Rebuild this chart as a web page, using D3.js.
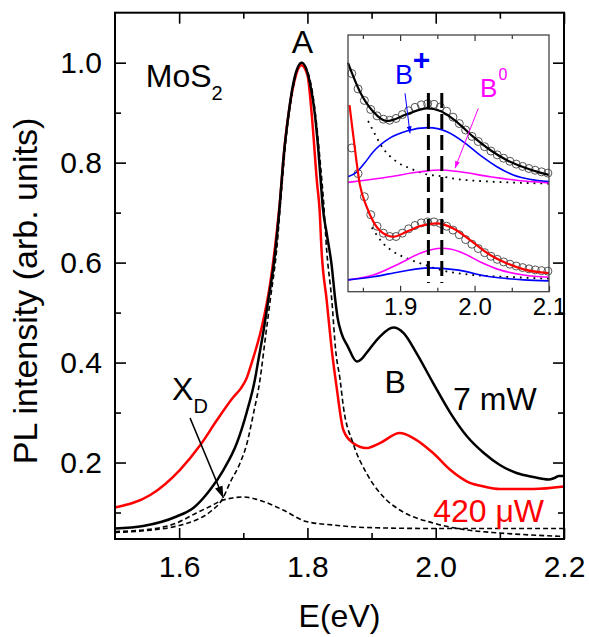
<!DOCTYPE html>
<html>
<head>
<meta charset="utf-8">
<script src="https://cdnjs.cloudflare.com/ajax/libs/d3/7.8.5/d3.min.js"></script>
<style>
  body { margin: 0; background: #fff; }
  svg { display: block; font-family: "Liberation Sans", Arial, sans-serif; }
</style>
</head>
<body>
<svg id="chart"></svg>
<script>
// main panel, [E (eV), normalised PL]
const pl7mW = [[1.500,0.068],[1.544,0.073],[1.596,0.092],[1.622,0.109],[1.648,0.145],[1.669,0.185],[1.690,0.239],
  [1.705,0.299],[1.718,0.365],[1.7235,0.405],[1.731,0.459],[1.739,0.525],[1.747,0.592],[1.7565,0.710],[1.762,0.800],
  [1.770,0.892],[1.778,0.959],[1.791,1.000],[1.804,0.959],[1.812,0.892],[1.817,0.825],[1.821,0.759],[1.824,0.710],
  [1.830,0.659],[1.838,0.592],[1.843,0.530],[1.847,0.490],[1.853,0.459],[1.863,0.432],[1.877,0.402],[1.885,0.408],
  [1.892,0.419],[1.913,0.452],[1.934,0.470],[1.950,0.459],[1.970,0.419],[1.996,0.359],[2.023,0.299],[2.049,0.252],
  [2.075,0.219],[2.100,0.195],[2.126,0.179],[2.152,0.171],[2.176,0.166],[2.185,0.169],[2.192,0.173],[2.200,0.173]];
const pl420uW = [[1.500,0.110],[1.555,0.135],[1.601,0.185],[1.633,0.235],[1.659,0.285],[1.684,0.330],[1.697,0.350],
  [1.705,0.368],[1.713,0.399],[1.729,0.472],[1.742,0.559],[1.752,0.659],[1.757,0.720],[1.765,0.840],[1.772,0.910],
  [1.780,0.965],[1.7905,0.995],[1.800,0.975],[1.807,0.892],[1.815,0.759],[1.819,0.705],[1.822,0.625],[1.830,0.525],
  [1.838,0.425],[1.8456,0.350],[1.856,0.265],[1.871,0.239],[1.892,0.229],[1.913,0.239],[1.944,0.259],[1.965,0.249],
  [1.996,0.219],[2.023,0.185],[2.049,0.162],[2.075,0.152],[2.100,0.147],[2.152,0.147],[2.200,0.152]];
const fitA = [[1.500,0.060],[1.550,0.064],[1.600,0.074],[1.630,0.087],[1.650,0.103],[1.668,0.128],[1.679,0.159],
  [1.695,0.199],[1.705,0.235],[1.716,0.299],[1.726,0.365],[1.734,0.445],[1.742,0.525],[1.752,0.625],[1.760,0.750],
  [1.766,0.840],[1.775,0.930],[1.791,1.000],[1.805,0.960],[1.814,0.880],[1.820,0.800],[1.825,0.725],[1.830,0.625],
  [1.838,0.525],[1.844,0.425],[1.851,0.365],[1.856,0.312],[1.871,0.239],[1.892,0.179],[1.918,0.132],[1.944,0.105],
  [1.996,0.079],[2.049,0.065],[2.100,0.059],[2.200,0.052]];
const fitXD = [[1.500,0.062],[1.544,0.065],[1.596,0.079],[1.627,0.099],[1.648,0.112],[1.669,0.125],[1.700,0.131],
  [1.731,0.122],[1.762,0.105],[1.798,0.082],[1.840,0.075],[1.892,0.070],[2.000,0.068],[2.200,0.068]];

const xMajor = [1.6, 1.8, 2.0, 2.2];
const xMinor = [1.7, 1.9, 2.1];
const yMajor = [0.2, 0.4, 0.6, 0.8, 1.0];
const yMinor = [0.1, 0.3, 0.5, 0.7, 0.9];

// inset, arbitrary vertical units (0..1 of the inset box)
const insetDotE = [1.835,1.8435,1.852,1.8605,1.869,1.8775,1.886,1.8945,1.903,1.9115,1.92,1.9285,1.937,1.9455,
  1.954,1.9625,1.971,1.9795,1.988,1.9965,2.005,2.0135,2.022,2.0305,2.039,2.0475,2.056,2.0645,2.073,2.0815,2.09,2.0985];
const insetDots7mW = [0.85,0.79,0.745,0.71,0.685,0.672,0.668,0.675,0.69,0.705,0.718,0.728,0.732,0.73,0.72,0.703,
  0.68,0.655,0.63,0.605,0.585,0.565,0.548,0.533,0.52,0.508,0.497,0.488,0.48,0.473,0.467,0.462];
const insetDots420uW = [0.56,0.46,0.37,0.30,0.255,0.228,0.215,0.215,0.228,0.245,0.258,0.268,0.272,0.272,0.266,0.255,
  0.24,0.222,0.203,0.185,0.168,0.152,0.138,0.126,0.116,0.107,0.10,0.094,0.089,0.085,0.082,0.08];

const fit7mW = [[1.830,0.891],[1.846,0.779],[1.864,0.701],[1.882,0.665],[1.909,0.691],[1.936,0.714],[1.954,0.704],
  [1.976,0.662],[1.998,0.604],[2.021,0.552],[2.043,0.513],[2.066,0.485],[2.088,0.464],[2.100,0.455]];
const bPlus7mW = [[1.830,0.448],[1.842,0.467],[1.852,0.500],[1.864,0.545],[1.886,0.598],[1.909,0.626],[1.938,0.639],
  [1.963,0.623],[1.985,0.584],[2.007,0.533],[2.030,0.487],[2.052,0.455],[2.074,0.438],[2.100,0.429]];
const bZero7mW = [[1.830,0.426],[1.886,0.448],[1.927,0.467],[1.954,0.474],[1.980,0.467],[2.021,0.448],[2.066,0.431],[2.100,0.424]];
const tail7mW = [[1.857,0.665],[1.862,0.637],[1.877,0.559],[1.895,0.507],[1.913,0.481],[1.936,0.457],[1.954,0.450],
  [1.976,0.439],[2.021,0.429],[2.088,0.422],[2.100,0.421]];

const fit420uW = [[1.832,0.727],[1.837,0.610],[1.846,0.416],[1.855,0.331],[1.864,0.273],[1.877,0.228],[1.891,0.214],
  [1.909,0.234],[1.927,0.256],[1.949,0.266],[1.971,0.247],[1.994,0.201],[2.021,0.143],[2.043,0.111],[2.066,0.087],[2.100,0.072]];
const bPlus420uW = [[1.830,0.046],[1.864,0.058],[1.900,0.078],[1.938,0.093],[1.976,0.085],[2.021,0.058],[2.066,0.046],[2.100,0.042]];
const bZero420uW = [[1.830,0.046],[1.864,0.065],[1.900,0.111],[1.927,0.150],[1.956,0.169],[1.980,0.156],[2.007,0.117],
  [2.034,0.085],[2.066,0.065],[2.100,0.056]];
const tail420uW = [[1.862,0.25],[1.877,0.189],[1.891,0.156],[1.909,0.130],[1.931,0.107],
  [1.954,0.085],[1.998,0.065],[2.043,0.058],[2.088,0.052],[2.100,0.051]];

const peakLines = [1.938, 1.956];
const insetXMajor = [1.9, 2.0, 2.1];
const insetXMinor = [1.85, 1.95, 2.05];

class PLChart {
  margin = { top: 12.7, right: 25, bottom: 98, left: 115 }

  constructor(svg, width = 589, height = 637) {
    this.svg = d3.select(svg);
    this.fullWidth = width;
    this.fullHeight = height;
    this.width = width - this.margin.left - this.margin.right;
    this.height = height - this.margin.top - this.margin.bottom;
  }

  initialize() {
    this.svg.attr("width", this.fullWidth).attr("height", this.fullHeight);
    this.svg.append("rect").attr("width", this.fullWidth).attr("height", this.fullHeight).attr("fill", "white");
    this.defs = this.svg.append("defs");
    this.addArrow("arrowBlack", "black", 12, 8);
    this.addArrow("arrowBlue", "#0000ff", 7, 5);
    this.addArrow("arrowMagenta", "#ff00ff", 7, 5);

    this.x = d3.scaleLinear().domain([1.5, 2.2]).range([this.margin.left, this.margin.left + this.width]);
    this.y = d3.scaleLinear().domain([0.047, 1.1]).range([this.margin.top + this.height, this.margin.top]);

    // inset box
    this.xi = d3.scaleLinear().domain([1.83, 2.1]).range([348, 549]);
    this.yi = d3.scaleLinear().domain([0, 1]).range([291.7, 35]);
  }

  addArrow(id, color, w, h) {
    this.defs.append("marker")
      .attr("id", id)
      .attr("viewBox", "0 0 10 10")
      .attr("refX", 10).attr("refY", 5)
      .attr("markerWidth", w).attr("markerHeight", h)
      .attr("markerUnits", "userSpaceOnUse")
      .attr("preserveAspectRatio", "none")
      .attr("orient", "auto")
      .append("path").attr("d", "M0,0L10,5L0,10Z").attr("fill", color);
  }

  update() {
    this.drawMain();
    this.drawInset();
  }

  drawMain() {
    const x = this.x, y = this.y;
    const g = this.svg.append("g");
    const line = d3.line().x(d => x(d[0])).y(d => y(d[1])).curve(d3.curveMonotoneX);

    g.append("path").datum(pl420uW).attr("d", line).attr("fill", "none").attr("stroke", "#ff0000").attr("stroke-width", 2.5);
    g.append("path").datum(pl7mW).attr("d", line).attr("fill", "none").attr("stroke", "black").attr("stroke-width", 2.5);
    g.append("path").datum(fitXD).attr("d", line).attr("fill", "none").attr("stroke", "black")
      .attr("stroke-width", 1.6).attr("stroke-dasharray", "5,3");
    g.append("path").datum(fitA).attr("d", line).attr("fill", "none").attr("stroke", "black")
      .attr("stroke-width", 1.6).attr("stroke-dasharray", "5,3");

    // axes, ticks pointing in
    const bottom = this.margin.top + this.height, top = this.margin.top;
    const left = this.margin.left, right = this.margin.left + this.width;
    const fmt = d3.format(".1f");

    const axes = [
      [d3.axisBottom(x).tickValues(xMajor).tickSize(-11).tickPadding(17).tickFormat(fmt), `translate(0,${bottom})`],
      [d3.axisBottom(x).tickValues(xMinor).tickSize(-6).tickFormat(""), `translate(0,${bottom})`],
      [d3.axisTop(x).tickValues(xMajor).tickSize(-11).tickFormat(""), `translate(0,${top})`],
      [d3.axisTop(x).tickValues(xMinor).tickSize(-6).tickFormat(""), `translate(0,${top})`],
      [d3.axisLeft(y).tickValues(yMajor).tickSize(-11).tickPadding(13).tickFormat(fmt), `translate(${left},0)`],
      [d3.axisLeft(y).tickValues(yMinor).tickSize(-6).tickFormat(""), `translate(${left},0)`],
      [d3.axisRight(y).tickValues(yMajor).tickSize(-11).tickFormat(""), `translate(${right},0)`],
      [d3.axisRight(y).tickValues(yMinor).tickSize(-6).tickFormat(""), `translate(${right},0)`]
    ];
    for (const [axis, tr] of axes) {
      const a = g.append("g").attr("transform", tr).call(axis);
      a.select(".domain").remove();
      a.selectAll("line").attr("stroke", "black").attr("stroke-width", 1.6);
      a.selectAll("text").attr("font-size", 30).attr("fill", "black").attr("font-family", "Liberation Sans, Arial, sans-serif");
    }

    g.append("rect").attr("x", left).attr("y", top).attr("width", this.width).attr("height", this.height)
      .attr("fill", "none").attr("stroke", "black").attr("stroke-width", 2);

    // titles
    g.append("text").attr("x", (left + right) / 2).attr("y", 627).attr("text-anchor", "middle")
      .attr("font-size", 32).text("E(eV)");
    g.append("text").attr("transform", "translate(37,291) rotate(-90)")
      .attr("text-anchor", "middle").attr("font-size", 34).text("PL intensity (arb. units)");

    // labels
    g.append("text").attr("x", x(1.792)).attr("y", y(1.019)).attr("text-anchor", "middle").attr("font-size", 32).text("A");
    const mos = g.append("text").attr("x", x(1.548)).attr("y", y(0.951)).attr("font-size", 32).text("MoS");
    mos.append("tspan").attr("font-size", 20).attr("dy", 13).text("2");
    const xd = g.append("text").attr("x", x(1.589)).attr("y", y(0.325)).attr("font-size", 32).text("X");
    xd.append("tspan").attr("font-size", 20).attr("dy", 13).text("D");
    g.append("text").attr("x", x(1.9366)).attr("y", y(0.339)).attr("text-anchor", "middle").attr("font-size", 32).text("B");
    g.append("text").attr("x", x(2.027)).attr("y", y(0.305)).attr("font-size", 32).text("7 mW");
    g.append("text").attr("x", x(1.996)).attr("y", y(0.081)).attr("font-size", 32).attr("fill", "#ff0000").text("420 μW");

    g.append("line").attr("x1", x(1.617)).attr("y1", y(0.289)).attr("x2", x(1.669)).attr("y2", y(0.129))
      .attr("stroke", "black").attr("stroke-width", 1.6).attr("marker-end", "url(#arrowBlack)");
  }

  drawInset() {
    const xi = this.xi, yi = this.yi;
    const g = this.svg.append("g");
    const line = d3.line().x(d => xi(d[0])).y(d => yi(d[1])).curve(d3.curveMonotoneX);
    const [x0, x1] = xi.range(), [y0, y1] = yi.range();

    g.append("rect").attr("x", x0).attr("y", y1).attr("width", x1 - x0).attr("height", y0 - y1).attr("fill", "white");

    // open circles = data
    for (const vals of [insetDots7mW, insetDots420uW]) {
      g.selectAll(null).data(insetDotE.map((e, i) => [e, vals[i]])).join("circle")
        .attr("cx", d => xi(d[0])).attr("cy", d => yi(d[1])).attr("r", 4)
        .attr("fill", "none").attr("stroke", "#555").attr("stroke-width", 1);
    }

    const dotted = (data) => g.append("path").datum(data).attr("d", line).attr("fill", "none")
      .attr("stroke", "black").attr("stroke-width", 1.8).attr("stroke-dasharray", "1.8,5");
    dotted(tail7mW);
    dotted(tail420uW);

    const solid = (data, color, w) => g.append("path").datum(data).attr("d", line).attr("fill", "none")
      .attr("stroke", color).attr("stroke-width", w);
    solid(bZero7mW, "#ff00ff", 1.6);
    solid(bPlus7mW, "#0000ff", 1.6);
    solid(bZero420uW, "#ff00ff", 1.6);
    solid(bPlus420uW, "#0000ff", 1.6);
    solid(fit7mW, "black", 2.2);
    solid(fit420uW, "#ff0000", 2.2);

    g.selectAll(null).data(peakLines).join("line")
      .attr("x1", d => xi(d)).attr("x2", d => xi(d)).attr("y1", yi(0.774)).attr("y2", yi(0.034))
      .attr("stroke", "black").attr("stroke-width", 3).attr("stroke-dasharray", "15,6");

    const axes = [
      [d3.axisBottom(xi).tickValues(insetXMajor).tickSize(-6).tickPadding(6).tickFormat(d3.format(".1f")), `translate(0,${y0})`],
      [d3.axisBottom(xi).tickValues(insetXMinor).tickSize(-4).tickFormat(""), `translate(0,${y0})`],
      [d3.axisTop(xi).tickValues(insetXMajor.slice(0, 2)).tickSize(-6).tickFormat(""), `translate(0,${y1})`],
      [d3.axisTop(xi).tickValues(insetXMinor).tickSize(-4).tickFormat(""), `translate(0,${y1})`]
    ];
    for (const [axis, tr] of axes) {
      const a = g.append("g").attr("transform", tr).call(axis);
      a.select(".domain").remove();
      a.selectAll("line").attr("stroke", "#333").attr("stroke-width", 1.2);
      a.selectAll("text").attr("font-size", 24).attr("fill", "black").attr("font-family", "Liberation Sans, Arial, sans-serif");
    }
    g.append("rect").attr("x", x0).attr("y", y1).attr("width", x1 - x0).attr("height", y0 - y1)
      .attr("fill", "none").attr("stroke", "#444").attr("stroke-width", 1.3);

    // labels B+ and B0
    g.append("text").attr("x", xi(1.893)).attr("y", yi(0.808)).attr("font-size", 27).attr("fill", "#0000ff").text("B");
    g.append("text").attr("x", xi(1.9287)).attr("y", yi(0.865)).attr("text-anchor", "middle")
      .attr("font-size", 30).attr("font-weight", "bold").attr("fill", "#0000ff").text("+");
    g.append("text").attr("x", xi(2.0073)).attr("y", yi(0.760)).attr("font-size", 26).attr("fill", "#ff00ff").text("B");
    g.append("text").attr("x", xi(2.032)).attr("y", yi(0.825)).attr("font-size", 16).attr("fill", "#ff00ff").text("0");

    g.append("line").attr("x1", xi(1.9066)).attr("y1", yi(0.773)).attr("x2", xi(1.9133)).attr("y2", yi(0.617))
      .attr("stroke", "#0000ff").attr("stroke-width", 1).attr("marker-end", "url(#arrowBlue)");
    g.append("line").attr("x1", xi(2.005)).attr("y1", yi(0.714)).attr("x2", xi(1.9737)).attr("y2", yi(0.481))
      .attr("stroke", "#ff00ff").attr("stroke-width", 1).attr("marker-end", "url(#arrowMagenta)");
  }
}

const chart = new PLChart(document.getElementById("chart"));
chart.initialize();
chart.update();
</script>
</body>
</html>
